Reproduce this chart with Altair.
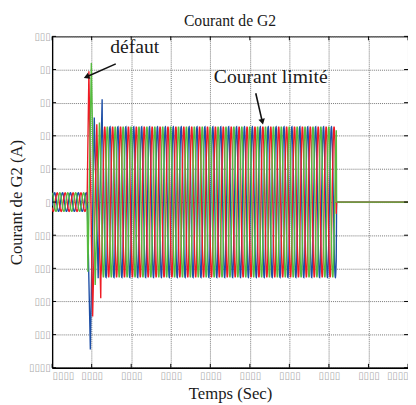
import altair as alt
import numpy as np
import pandas as pd

# ---------------- data ----------------
x_ticks = [0.0, 0.1, 0.2, 0.3, 0.4, 0.5, 0.6, 0.7, 0.8, 0.9]
y_ticks = [-100, -80, -60, -40, -20, 0, 20, 40, 60, 80, 100]

freq = 50.0          # Hz
t_fault = 0.089      # s, fault instant
t_clear = 0.719      # s, current cut
t_end = 0.9
pre_amp = 5.6        # A, pre-fault amplitude
post_amp = 45.5      # A, limited current amplitude

phase_names = ["blue", "red", "green"]          # drawing order
phase_colors = {"red": "#ee1c25", "green": "#56bb3f", "blue": "#1d4ea6"}
peak_time = {"red": 0.013, "green": 0.0197, "blue": 0.0063}  # time of a positive crest

# transient extremes just after the fault (time s, current A)
red_tr_t = [0.093, 0.1025, 0.113, 0.123]
red_tr_v = [79, -69, 47, -58]
green_tr_t = [0.0905, 0.0992, 0.109, 0.1197]
green_tr_v = [-42, 84, -50, 48]
blue_tr_t = [0.0967, 0.1066, 0.1165, 0.1265]
blue_tr_v = [-89, 51, -46, 62]
transients = {"red": (red_tr_t, red_tr_v), "green": (green_tr_t, green_tr_v),
              "blue": (blue_tr_t, blue_tr_v)}

# annotations
ann_text = ["défaut", "Courant limité"]
ann_t = [0.147, 0.409]
ann_v = [90.0, 72.0]
arrow_t = [0.161, 0.515]
arrow_v = [83.4, 65.7]
arrow_t2 = [0.089, 0.531]
arrow_v2 = [75.8, 49.0]
arrow_angle = [248, 166]

# ---------------- build waveform table ----------------
rows = []
w = 2 * np.pi * freq
for ph in phase_names:
    tt = np.arange(0.0, t_fault, 0.0005)
    vv = pre_amp * np.cos(w * (tt - peak_time[ph]))
    seg_t = list(tt)
    seg_v = list(vv)
    tr_t, tr_v = transients[ph]
    seg_t += tr_t
    seg_v += tr_v
    ts = np.arange(tr_t[-1] + 0.0005, t_clear, 0.0005)
    seg_t += list(ts)
    seg_v += list(post_amp * np.cos(w * (ts - peak_time[ph])))
    seg_t += [t_clear + 0.0005, t_end]
    seg_v += [0.0, 0.0]
    for a, b in zip(seg_t, seg_v):
        rows.append({"t": a, "v": b, "phase": ph})
df = pd.DataFrame(rows)

# ---------------- chart ----------------
W, H = 363, 338
xs = alt.Scale(domain=[0, 0.9], nice=False, zero=False)
ys = alt.Scale(domain=[-100, 100], nice=False, zero=False)
tofu = "replace(datum.label, regexp('.', 'g'), '\u25af')"

x_axis = alt.Axis(values=x_ticks, format=".2f", labelExpr=tofu, grid=True,
                  title="Temps (Sec)", titleY=31, titleBaseline="alphabetic",
                  labelPadding=3)
y_axis = alt.Axis(values=y_ticks, format="d", labelExpr=tofu, grid=True,
                  title="Courant de G2 (A)", titleX=-36, titleBaseline="middle",
                  labelPadding=2)

X = alt.X("t:Q", scale=xs, axis=x_axis)
Y = alt.Y("v:Q", scale=ys, axis=y_axis)

layers = []
for ph in phase_names:
    layers.append(
        alt.Chart(df[df.phase == ph]).mark_line(
            color=phase_colors[ph], strokeWidth=1.4, clip=True
        ).encode(x=X, y=Y)
    )

xt = pd.DataFrame({"t": x_ticks})
yt = pd.DataFrame({"v": y_ticks})
tick_style = dict(color="black", strokeWidth=1)
layers.append(alt.Chart(xt).mark_rule(**tick_style).encode(x=X, y=alt.value(H), y2=alt.value(H - 4)))
layers.append(alt.Chart(xt).mark_rule(**tick_style).encode(x=X, y=alt.value(0), y2=alt.value(4)))
layers.append(alt.Chart(yt).mark_rule(**tick_style).encode(y=Y, x=alt.value(0), x2=alt.value(4)))
layers.append(alt.Chart(yt).mark_rule(**tick_style).encode(y=Y, x=alt.value(W - 4), x2=alt.value(W)))

ann = pd.DataFrame({"text": ann_text, "t": ann_t, "v": ann_v})
layers.append(
    alt.Chart(ann).mark_text(font="Liberation Serif", fontSize=20, align="left",
                             baseline="alphabetic", color="#1a1a1a")
    .encode(x=X, y=Y, text="text:N")
)
arr = pd.DataFrame({"t": arrow_t, "v": arrow_v, "t2": arrow_t2, "v2": arrow_v2,
                    "angle": arrow_angle})
layers.append(
    alt.Chart(arr).mark_rule(color="#111", strokeWidth=1.6)
    .encode(x=X, y=Y, x2="t2:Q", y2="v2:Q")
)
layers.append(
    alt.Chart(arr).mark_point(shape="triangle", filled=True, color="#111", size=45, opacity=1)
    .encode(x=alt.X("t2:Q", scale=xs, axis=x_axis), y=alt.Y("v2:Q", scale=ys, axis=y_axis),
            angle=alt.Angle("angle:Q", scale=None))
)

chart = alt.layer(*layers).properties(
    width=W, height=H,
    title=alt.TitleParams("Courant de G2", font="Liberation Serif", fontSize=16,
                          fontWeight="normal", color="#1a1a1a", offset=3, anchor="middle"),
    autosize=alt.AutoSizeParams(type="none"),
    padding={"left": 45, "top": 25, "right": 0, "bottom": 32},
).configure_view(
    stroke="black", strokeWidth=1
).configure_axis(
    domainColor="black", domainWidth=1.3, tickSize=0,
    gridColor="#777", gridDash=[1, 1], gridWidth=1, gridOpacity=1,
    labelFont="DejaVu Sans", labelFontSize=10, labelColor="#aaaaaa",
    titleFont="Liberation Serif", titleFontSize=17, titleFontWeight="normal",
    titleColor="#1a1a1a",
)

chart.save("out.html", embed_options={"renderer": "svg", "actions": False})
